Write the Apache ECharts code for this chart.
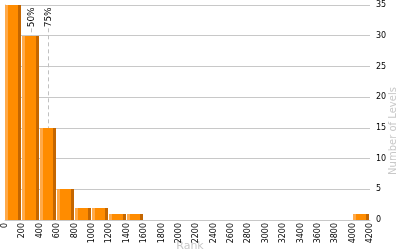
<!DOCTYPE html>
<html>
<head>
<meta charset="utf-8">
<script src="https://cdn.jsdelivr.net/npm/echarts@6/dist/echarts.min.js"></script>
<style>
html,body{margin:0;padding:0;background:#fff;}
#chart{width:400px;height:250px;}
</style>
</head>
<body>
<div id="chart"></div>
<script>
// Histogram bins (Rank ranges) and their counts
var binStarts = [0, 200, 400, 600, 800, 1000, 1200, 1400, 4000];
var binEnds = [200, 400, 600, 800, 1000, 1200, 1400, 1600, 4200];
var levelCounts = [35, 30, 15, 5, 2, 2, 1, 1, 1];
// Percentile markers
var percentileLabels = ['50%', '75%'];
var percentileRanks = [300, 500];
var percentileTop = 31.2;
// Axis ticks
var xTicks = [0, 4200, 200];   // min, max, step
var yTicks = [0, 35, 5];

var barData = binStarts.map(function (s, i) { return [s, binEnds[i], levelCounts[i]]; });
var pctData = percentileRanks.map(function (r, i) { return [r, percentileTop, percentileLabels[i]]; });

var chart = echarts.init(document.getElementById('chart'), null, {renderer: 'canvas'});
chart.setOption({
  animation: false,
  grid: {left: 5, right: 30, top: 5, bottom: 30},
  xAxis: {
    type: 'value', min: xTicks[0], max: xTicks[1], interval: xTicks[2],
    axisLine: {show: true, lineStyle: {color: '#c8c8c8', width: 1}},
    axisTick: {show: false},
    splitLine: {show: false},
    axisLabel: {rotate: 90, margin: 3, fontSize: 8, color: '#000', fontFamily: 'DejaVu Sans',
      showMinLabel: true, showMaxLabel: true, hideOverlap: false,
      formatter: function (v) { return String(v); }}
  },
  yAxis: {
    type: 'value', position: 'right', min: yTicks[0], max: yTicks[1], interval: yTicks[2],
    axisLine: {show: true, lineStyle: {color: '#c0c0c0', width: 1}},
    axisTick: {show: false},
    splitLine: {show: true, lineStyle: {color: '#c8c8c8', width: 1}},
    axisLabel: {margin: 6, fontSize: 8, color: '#000', fontFamily: 'DejaVu Sans'}
  },
  graphic: [
    {type: 'text', x: 393, y: 131, rotation: Math.PI / 2,
      style: {text: 'Number of Levels', fill: '#c8c8c8', font: '10px "DejaVu Sans"', align: 'center', verticalAlign: 'middle'}},
    {type: 'text', x: 190, y: 241,
      style: {text: 'Rank', fill: '#c8c8c8', font: '11px "DejaVu Sans"', align: 'center', verticalAlign: 'top'}}
  ],
  series: [
    {
      type: 'custom', z: 1,
      data: pctData,
      renderItem: function (params, api) {
        var top = api.coord([api.value(0), api.value(1)]);
        var bot = api.coord([api.value(0), 0]);
        var x = Math.round(top[0]) + 0.5;
        return {
          type: 'group',
          children: [
            {type: 'line', shape: {x1: x, y1: top[1], x2: x, y2: bot[1]},
              style: {stroke: '#c0c0c0', lineWidth: 1, lineDash: [4, 3]}},
            {type: 'text', x: x, y: top[1] - 1, rotation: Math.PI / 2,
              style: {text: api.value(2), fill: '#000', font: '9px "DejaVu Sans"', align: 'left', verticalAlign: 'middle'}}
          ]
        };
      }
    },
    {
      type: 'custom', z: 2,
      data: barData,
      renderItem: function (params, api) {
        var s = api.coord([api.value(0), api.value(2)]);
        var e = api.coord([api.value(1), 0]);
        var x0 = Math.round(s[0]);
        var x1 = Math.round(e[0]) - 1;
        var y0 = Math.round(s[1]);
        var y1 = Math.round(e[1]);
        return {
          type: 'rect',
          shape: {x: x0, y: y0, width: x1 - x0, height: y1 - y0},
          style: {
            fill: new echarts.graphic.LinearGradient(0, 0, 1, 0, [
              {offset: 0, color: '#ffaa4a'}, {offset: 0.2, color: '#ffaa4a'},
              {offset: 0.2, color: '#ff8c00'}, {offset: 0.81, color: '#ff8c00'},
              {offset: 0.81, color: '#c46600'}, {offset: 1, color: '#c46600'}
            ])
          }
        };
      }
    }
  ]
});
</script>
</body>
</html>
